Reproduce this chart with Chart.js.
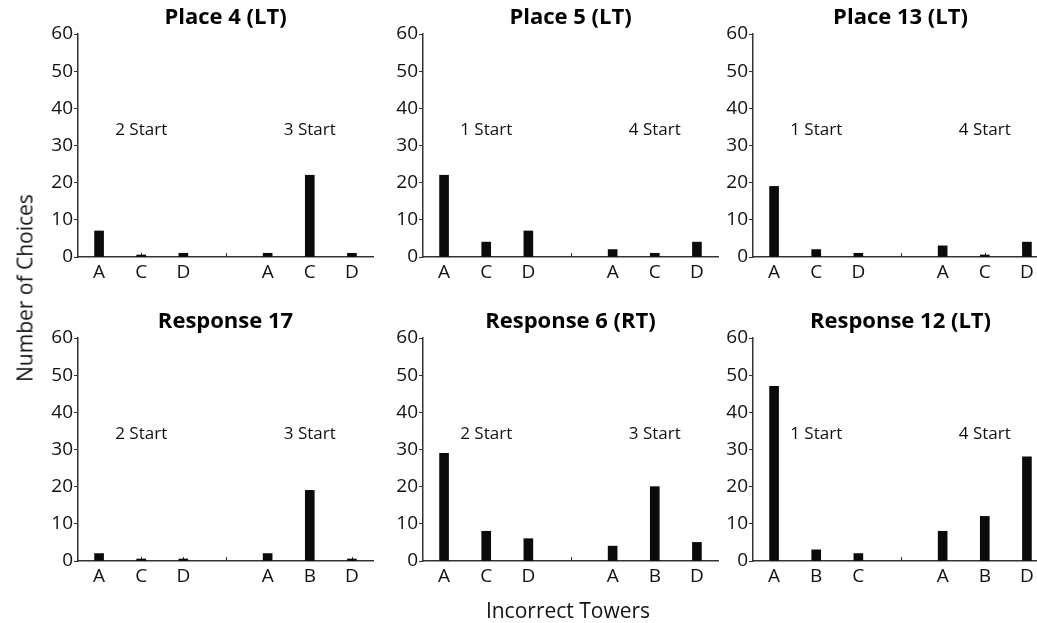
<!DOCTYPE html>
<html lang="en">
<head>
    <meta charset="UTF-8">
    <title>Incorrect Towers</title>
    <script src="https://cdn.jsdelivr.net/npm/chart.js@4.4.1/dist/chart.umd.min.js"></script>
    <style>
        * { margin: 0; padding: 0; box-sizing: border-box; }
        body {
            width: 1037px;
            height: 623px;
            overflow: hidden;
            background: #fff;
            position: relative;
            font-family: 'Open Sans', sans-serif;
            color: #111;
        }
        canvas { position: absolute; }
        .axis-title {
            position: absolute;
            white-space: nowrap;
            line-height: 1;
            transform: translate(-50%, -50%);
        }
        #ytitle { left: 25px; top: 288px; font-size: 21px; transform: translate(-50%, -50%) rotate(-90deg); }
        #xtitle { left: 568px; top: 610px; font-size: 21px; }
    </style>
</head>
<body>
    <!-- canvases carry an empty 40px axis on the right so the title centres over the plot area -->
    <canvas id="c0" width="375" height="287" style="left:38px; top:0px"></canvas>
    <canvas id="c1" width="375" height="287" style="left:383px; top:0px"></canvas>
    <canvas id="c2" width="375" height="287" style="left:713px; top:0px"></canvas>
    <canvas id="c3" width="375" height="287" style="left:38px; top:304px"></canvas>
    <canvas id="c4" width="375" height="287" style="left:383px; top:304px"></canvas>
    <canvas id="c5" width="375" height="287" style="left:713px; top:304px"></canvas>

    <div class="axis-title" id="ytitle">Number of Choices</div>
    <div class="axis-title" id="xtitle">Incorrect Towers</div>

    <script>
        // panel titles
        const titles = ['Place 4 (LT)', 'Place 5 (LT)', 'Place 13 (LT)',
                        'Response 17', 'Response 6 (RT)', 'Response 12 (LT)'];

        // tower labels per panel (empty slot = gap between the two start groups)
        const towers = [
            ['A', 'C', 'D', '', 'A', 'C', 'D'],
            ['A', 'C', 'D', '', 'A', 'C', 'D'],
            ['A', 'C', 'D', '', 'A', 'C', 'D'],
            ['A', 'C', 'D', '', 'A', 'B', 'D'],
            ['A', 'C', 'D', '', 'A', 'B', 'D'],
            ['A', 'B', 'C', '', 'A', 'B', 'D']
        ];

        // number of choices
        const choices = [
            [7, 0, 1, null, 1, 22, 1],
            [22, 4, 7, null, 2, 1, 4],
            [19, 2, 1, null, 3, 0, 4],
            [2, 0, 0, null, 2, 19, 0],
            [29, 8, 6, null, 4, 20, 5],
            [47, 3, 2, null, 8, 12, 28]
        ];

        // start group labels
        const starts = [
            ['2 Start', '3 Start'],
            ['1 Start', '4 Start'],
            ['1 Start', '4 Start'],
            ['2 Start', '3 Start'],
            ['2 Start', '3 Start'],
            ['1 Start', '4 Start']
        ];

        const yTicks = [0, 10, 20, 30, 40, 50, 60];

        const FONT = "'Open Sans', sans-serif";
        const AXIS = '#333';

        // small upward ticks on the x axis + the "N Start" labels
        const extras = {
            id: 'extras',
            beforeDatasetsDraw(chart) {
                const x = chart.scales.x, y = chart.scales.y;
                const ctx = chart.ctx;
                const y0 = y.getPixelForValue(0);
                ctx.save();
                ctx.strokeStyle = AXIS;
                ctx.lineWidth = 1;
                for (let i = 0; i < x.getLabels().length; i++) {
                    const px = Math.round(x.getPixelForValue(i)) + 0.5;
                    ctx.beginPath();
                    ctx.moveTo(px, y0);
                    ctx.lineTo(px, y0 - 4);
                    ctx.stroke();
                }
                ctx.restore();
            },
            afterDraw(chart, args, opts) {
                const x = chart.scales.x, y = chart.scales.y;
                const ctx = chart.ctx;
                ctx.save();
                ctx.font = '17px ' + FONT;
                ctx.fillStyle = '#111';
                ctx.textAlign = 'center';
                ctx.textBaseline = 'middle';
                ctx.fillText(opts.labels[0], x.getPixelForValue(1), y.getPixelForValue(34));
                ctx.fillText(opts.labels[1], x.getPixelForValue(5), y.getPixelForValue(34));
                ctx.restore();
            }
        };

        titles.forEach((title, p) => {
            new Chart(document.getElementById('c' + p), {
                type: 'bar',
                data: {
                    labels: towers[p],
                    datasets: [{
                        data: choices[p],
                        backgroundColor: '#0b0b0b',
                        barThickness: 9,
                        minBarLength: 2
                    }]
                },
                plugins: [extras],
                options: {
                    responsive: false,
                    animation: false,
                    devicePixelRatio: 1,
                    layout: { padding: 0 },
                    plugins: {
                        legend: { display: false },
                        tooltip: { enabled: false },
                        title: {
                            display: true,
                            text: title,
                            color: '#000',
                            font: { family: FONT, size: 22, weight: 'bold' },
                            padding: { top: 5, bottom: 2.6 }
                        },
                        extras: { labels: starts[p] }
                    },
                    scales: {
                        x: {
                            offset: true,
                            grid: { display: false, drawTicks: false },
                            border: { display: true, color: AXIS, width: 1.5 },
                            ticks: {
                                color: '#111',
                                padding: 4,
                                autoSkip: false,
                                maxRotation: 0,
                                font: { family: FONT, size: 19 }
                            },
                            afterFit: s => { s.height = 30; }
                        },
                        y: {
                            min: 0,
                            max: 60,
                            afterBuildTicks: s => { s.ticks = yTicks.map(v => ({ value: v })); },
                            grid: { drawOnChartArea: false, drawTicks: true, tickLength: 4, color: AXIS },
                            border: { display: true, color: AXIS, width: 1.5 },
                            ticks: {
                                color: '#111',
                                padding: 1,
                                font: { family: FONT, size: 19 }
                            },
                            afterFit: s => { s.width = 40; }
                        },
                        // empty spacer axis, mirrors the left axis width
                        spacer: {
                            type: 'linear',
                            position: 'right',
                            grid: { display: false },
                            border: { display: false },
                            ticks: { display: false },
                            afterFit: s => { s.width = 40; }
                        }
                    }
                }
            });
        });
    </script>
</body>
</html>
